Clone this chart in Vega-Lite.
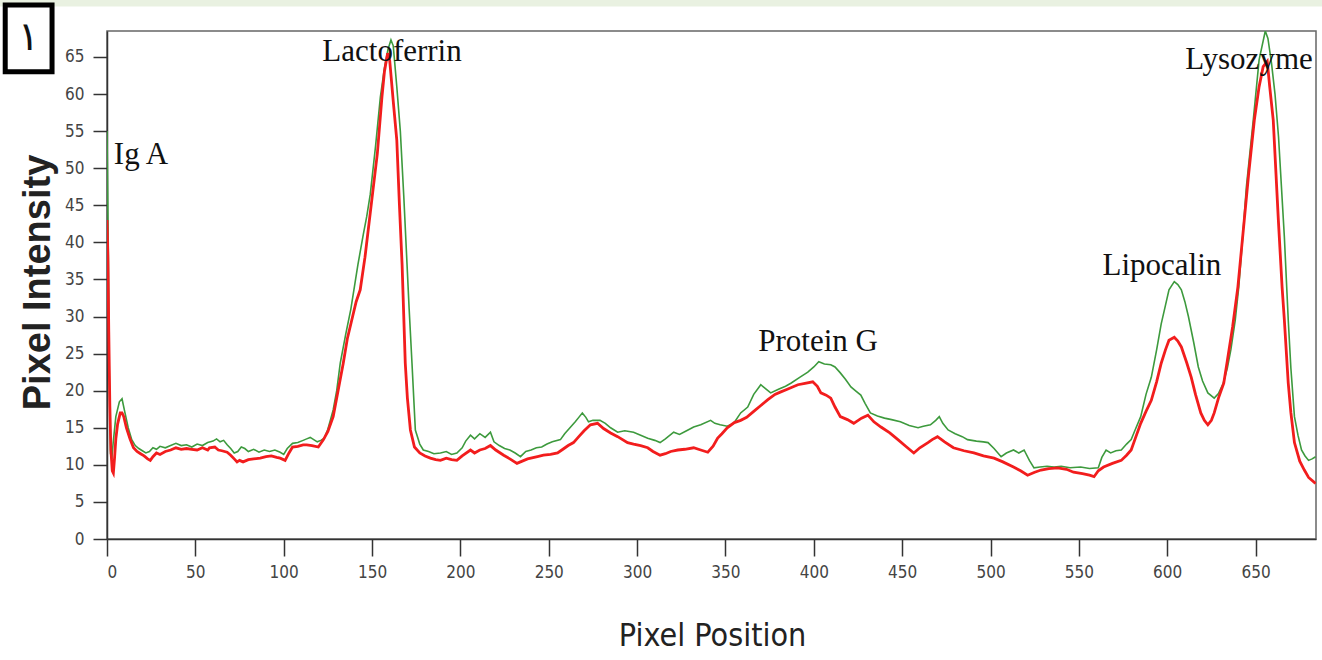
{
  "$schema": "https://vega.github.io/schema/vega-lite/v6.json",
  "width": 1209,
  "height": 508,
  "autosize": {"type": "none"},
  "padding": {"left": 107, "top": 31, "right": 6, "bottom": 121},
  "background": "white",
  "config": {
    "view": {"stroke": "#666666", "strokeWidth": 1.5},
    "axis": {"grid": false, "domainColor": "#333333", "domainWidth": 1.5, "tickColor": "#333333", "tickWidth": 1.5,
      "labelFont": "DejaVu Sans Condensed, Liberation Sans, sans-serif", "labelFontSize": 17, "labelColor": "#444444", "labelOverlap": false}
  },
  "datasets": {
    "green": [
      {"x":0,"y":55},{"x":0.7,"y":40},{"x":1.3,"y":22},{"x":2,"y":11.5},{"x":2.7,"y":10.8},{"x":3.5,"y":13},{"x":5,"y":16.5},{"x":7,"y":18.5},{"x":8.5,"y":18.9},{"x":10,"y":17.2},{"x":12,"y":15},{"x":14,"y":13.4},{"x":16,"y":12.6},{"x":18,"y":12.2},{"x":20,"y":11.9},{"x":22,"y":11.6},{"x":24,"y":11.8},{"x":26,"y":12.3},{"x":28,"y":12.1},{"x":30,"y":12.5},{"x":33,"y":12.3},{"x":36,"y":12.6},{"x":39,"y":12.9},{"x":42,"y":12.6},{"x":45,"y":12.7},{"x":48,"y":12.4},{"x":51,"y":12.8},{"x":54,"y":12.6},{"x":57,"y":13},{"x":60,"y":13.2},{"x":62,"y":13.5},{"x":64,"y":13.1},{"x":66,"y":13.3},{"x":68,"y":12.7},{"x":70,"y":12.2},{"x":72,"y":11.6},{"x":74,"y":11.8},{"x":76,"y":12.4},{"x":78,"y":12.2},{"x":80,"y":11.8},{"x":83,"y":12.1},{"x":86,"y":11.7},{"x":89,"y":12},{"x":92,"y":11.8},{"x":95,"y":12},{"x":98,"y":11.7},{"x":100,"y":11.4},{"x":102,"y":12.2},{"x":105,"y":12.9},{"x":108,"y":13},{"x":111,"y":13.3},{"x":113,"y":13.5},{"x":115,"y":13.7},{"x":117,"y":13.4},{"x":119,"y":13.1},{"x":121,"y":13.3},{"x":123,"y":13.6},{"x":125,"y":14.8},{"x":128,"y":17.4},{"x":130,"y":20},{"x":132,"y":23.7},{"x":135,"y":27.5},{"x":138,"y":31},{"x":140,"y":34},{"x":142,"y":37},{"x":145,"y":41},{"x":147,"y":43.5},{"x":149,"y":46.5},{"x":152,"y":53},{"x":154.7,"y":59.6},{"x":157,"y":63.5},{"x":159,"y":66},{"x":160.7,"y":67.3},{"x":162,"y":66.5},{"x":164,"y":61},{"x":166,"y":55},{"x":168,"y":46},{"x":169.8,"y":37},{"x":171,"y":31},{"x":172.6,"y":23.7},{"x":174.5,"y":14.7},{"x":177,"y":12.8},{"x":179,"y":12},{"x":182,"y":11.8},{"x":185,"y":11.5},{"x":188.7,"y":11.6},{"x":192,"y":11.8},{"x":195,"y":11.4},{"x":198,"y":11.6},{"x":201,"y":12.3},{"x":203,"y":13.2},{"x":205.7,"y":14},{"x":208,"y":13.5},{"x":211,"y":14.2},{"x":214,"y":13.7},{"x":217,"y":14.4},{"x":219,"y":13.1},{"x":222,"y":12.6},{"x":225,"y":12.2},{"x":228,"y":12},{"x":231,"y":11.6},{"x":234,"y":11.1},{"x":237,"y":11.8},{"x":240,"y":12},{"x":243,"y":12.3},{"x":246,"y":12.4},{"x":249,"y":12.8},{"x":252,"y":13.1},{"x":256.6,"y":13.4},{"x":259,"y":14.2},{"x":262,"y":15},{"x":265,"y":15.8},{"x":267,"y":16.4},{"x":269,"y":17},{"x":271,"y":16.4},{"x":272.5,"y":15.8},{"x":275,"y":16},{"x":279,"y":16},{"x":282,"y":15.6},{"x":285,"y":15},{"x":289,"y":14.4},{"x":293,"y":14.6},{"x":298,"y":14.4},{"x":302,"y":14},{"x":306,"y":13.6},{"x":310,"y":13.3},{"x":313,"y":13},{"x":316,"y":13.5},{"x":320.7,"y":14.4},{"x":324,"y":14.1},{"x":328,"y":14.6},{"x":332,"y":15.1},{"x":336,"y":15.4},{"x":341.6,"y":16},{"x":344,"y":15.6},{"x":347,"y":15.4},{"x":351,"y":15.2},{"x":354.7,"y":15.6},{"x":358.6,"y":17},{"x":362.6,"y":17.8},{"x":366,"y":19.5},{"x":370,"y":20.8},{"x":373,"y":20.2},{"x":375.6,"y":19.7},{"x":380,"y":20.2},{"x":384,"y":20.6},{"x":387,"y":21},{"x":392,"y":21.8},{"x":396.6,"y":22.5},{"x":400,"y":23.2},{"x":402.8,"y":23.9},{"x":406,"y":23.6},{"x":409.6,"y":23.5},{"x":412,"y":23.2},{"x":415,"y":22.4},{"x":418,"y":21.5},{"x":421,"y":20.5},{"x":424,"y":19.9},{"x":426.6,"y":19.4},{"x":429,"y":18.3},{"x":432,"y":17},{"x":436,"y":16.6},{"x":440,"y":16.3},{"x":444,"y":16.1},{"x":449,"y":15.8},{"x":454,"y":15.3},{"x":459,"y":15},{"x":462,"y":15.2},{"x":466,"y":15.4},{"x":469,"y":16},{"x":471,"y":16.5},{"x":473,"y":15.6},{"x":476,"y":14.7},{"x":480,"y":14.2},{"x":484,"y":13.8},{"x":487,"y":13.4},{"x":492,"y":13.2},{"x":496,"y":13.1},{"x":498.6,"y":13},{"x":502,"y":12.2},{"x":506,"y":11.1},{"x":509,"y":11.6},{"x":513,"y":12},{"x":516,"y":11.6},{"x":519,"y":12},{"x":522,"y":10.6},{"x":524.6,"y":9.6},{"x":528,"y":9.7},{"x":532,"y":9.8},{"x":536,"y":9.7},{"x":540,"y":9.8},{"x":545,"y":9.6},{"x":551,"y":9.7},{"x":556,"y":9.5},{"x":561,"y":9.6},{"x":563,"y":11},{"x":565.4,"y":12},{"x":568,"y":11.6},{"x":571,"y":11.9},{"x":574,"y":12},{"x":577,"y":12.8},{"x":579.6,"y":13.4},{"x":582,"y":14.8},{"x":585,"y":16.5},{"x":588,"y":19.5},{"x":591,"y":21.8},{"x":594,"y":25.5},{"x":596.6,"y":29},{"x":599,"y":31.5},{"x":601,"y":33.6},{"x":604,"y":34.7},{"x":606,"y":34.3},{"x":608,"y":33.6},{"x":610,"y":32},{"x":612,"y":30},{"x":615,"y":26.5},{"x":617.6,"y":23.2},{"x":620,"y":21.3},{"x":623,"y":19.7},{"x":626.6,"y":19},{"x":629,"y":19.6},{"x":631.7,"y":21},{"x":634,"y":23},{"x":636,"y":25.5},{"x":638.5,"y":29.5},{"x":640.5,"y":34},{"x":642.5,"y":40},{"x":644.8,"y":47.5},{"x":648.7,"y":56.5},{"x":652,"y":64.6},{"x":655.5,"y":68.5},{"x":657,"y":67.5},{"x":659,"y":64.2},{"x":661,"y":60},{"x":663,"y":54.2},{"x":666.3,"y":40.7},{"x":668.5,"y":29.5},{"x":670,"y":23},{"x":672,"y":16.5},{"x":674,"y":14},{"x":676,"y":12},{"x":678,"y":11.2},{"x":680,"y":10.6},{"x":682,"y":10.8},{"x":684,"y":11.1}
    ],
    "red": [
      {"x":0,"y":43},{"x":0.5,"y":38},{"x":1,"y":28},{"x":1.6,"y":18},{"x":2.2,"y":12},{"x":3,"y":9.2},{"x":3.6,"y":8.9},{"x":4.3,"y":11},{"x":5,"y":13.5},{"x":6,"y":15.5},{"x":7.5,"y":17},{"x":8.5,"y":17},{"x":9.5,"y":16.5},{"x":11,"y":15},{"x":13,"y":13.5},{"x":15,"y":12.3},{"x":17,"y":11.8},{"x":19,"y":11.5},{"x":21,"y":11.2},{"x":23,"y":10.8},{"x":24.5,"y":10.6},{"x":26,"y":11.1},{"x":28,"y":11.6},{"x":30,"y":11.4},{"x":33,"y":11.8},{"x":36,"y":12},{"x":39,"y":12.3},{"x":42,"y":12.1},{"x":45,"y":12.2},{"x":48,"y":12.1},{"x":51,"y":12},{"x":54,"y":12.3},{"x":57,"y":12},{"x":58,"y":12.3},{"x":61,"y":12.4},{"x":63,"y":12},{"x":65,"y":11.9},{"x":68,"y":11.7},{"x":70,"y":11.3},{"x":72,"y":10.8},{"x":73.6,"y":10.4},{"x":75,"y":10.6},{"x":77,"y":10.4},{"x":80,"y":10.7},{"x":83,"y":10.8},{"x":86.7,"y":10.9},{"x":90,"y":11.1},{"x":93,"y":11.2},{"x":96,"y":11},{"x":98,"y":10.9},{"x":100.8,"y":10.6},{"x":103,"y":11.6},{"x":105,"y":12.4},{"x":108,"y":12.5},{"x":111,"y":12.7},{"x":113,"y":12.7},{"x":116,"y":12.6},{"x":119.6,"y":12.4},{"x":122.5,"y":13.4},{"x":125,"y":14.5},{"x":128,"y":16.5},{"x":130,"y":19},{"x":133.7,"y":23.7},{"x":136,"y":27},{"x":139,"y":30},{"x":141,"y":32},{"x":143.3,"y":33.6},{"x":146,"y":38},{"x":150,"y":46},{"x":153,"y":52},{"x":155.6,"y":59.6},{"x":157,"y":63},{"x":158.8,"y":65.5},{"x":160,"y":64.5},{"x":162,"y":59},{"x":164,"y":53.8},{"x":165.5,"y":45},{"x":167,"y":37},{"x":168.8,"y":23.7},{"x":170,"y":19},{"x":171.7,"y":14.7},{"x":174,"y":12.4},{"x":177,"y":11.6},{"x":180,"y":11.2},{"x":183,"y":10.9},{"x":186,"y":10.7},{"x":188.7,"y":10.6},{"x":192,"y":10.9},{"x":195,"y":10.7},{"x":198,"y":10.6},{"x":201,"y":11.2},{"x":205.7,"y":12},{"x":208,"y":11.6},{"x":211,"y":12},{"x":214,"y":12.2},{"x":217,"y":12.6},{"x":220,"y":12},{"x":224.5,"y":11.3},{"x":228,"y":10.8},{"x":232,"y":10.2},{"x":235,"y":10.5},{"x":238,"y":10.8},{"x":243.6,"y":11.1},{"x":247,"y":11.3},{"x":251,"y":11.4},{"x":255,"y":11.6},{"x":258,"y":12.1},{"x":261,"y":12.6},{"x":264,"y":13},{"x":267,"y":13.8},{"x":270,"y":14.6},{"x":273.6,"y":15.4},{"x":277.6,"y":15.6},{"x":281,"y":14.9},{"x":285,"y":14.3},{"x":289,"y":13.8},{"x":294.6,"y":13},{"x":298,"y":12.8},{"x":302,"y":12.6},{"x":306,"y":12.3},{"x":309,"y":11.8},{"x":313,"y":11.3},{"x":316,"y":11.5},{"x":319,"y":11.8},{"x":323,"y":12},{"x":327,"y":12.1},{"x":332,"y":12.3},{"x":336,"y":12},{"x":340,"y":11.7},{"x":343,"y":12.5},{"x":345.6,"y":13.6},{"x":348,"y":14.2},{"x":351,"y":15},{"x":355,"y":15.7},{"x":358.6,"y":16},{"x":362,"y":16.4},{"x":366,"y":17.2},{"x":370,"y":18},{"x":374,"y":18.8},{"x":378,"y":19.5},{"x":381,"y":19.8},{"x":385,"y":20.2},{"x":388,"y":20.5},{"x":391,"y":20.8},{"x":395,"y":21},{"x":399.4,"y":21.2},{"x":402,"y":20.6},{"x":404,"y":19.7},{"x":407,"y":19.4},{"x":409.6,"y":19},{"x":412,"y":17.8},{"x":415,"y":16.5},{"x":419,"y":16.1},{"x":422.6,"y":15.6},{"x":427,"y":16.3},{"x":430.6,"y":16.7},{"x":434,"y":15.8},{"x":438,"y":15.1},{"x":443,"y":14.3},{"x":447.6,"y":13.4},{"x":452,"y":12.5},{"x":456.6,"y":11.6},{"x":460,"y":12.3},{"x":464.6,"y":13},{"x":467,"y":13.4},{"x":470,"y":13.8},{"x":474,"y":13.1},{"x":479,"y":12.3},{"x":485,"y":11.9},{"x":490.6,"y":11.6},{"x":496,"y":11.2},{"x":502,"y":10.9},{"x":507,"y":10.4},{"x":513,"y":9.7},{"x":517,"y":9.2},{"x":521,"y":8.6},{"x":525,"y":9},{"x":528.6,"y":9.3},{"x":533,"y":9.5},{"x":538,"y":9.6},{"x":543,"y":9.4},{"x":547,"y":9},{"x":552,"y":8.8},{"x":556,"y":8.6},{"x":558.6,"y":8.4},{"x":561,"y":9.2},{"x":564,"y":9.7},{"x":569,"y":10.2},{"x":574,"y":10.6},{"x":577,"y":11.3},{"x":579.6,"y":12},{"x":582,"y":13.6},{"x":585,"y":15.6},{"x":588,"y":17.2},{"x":591,"y":18.7},{"x":594,"y":21.2},{"x":596.6,"y":23.7},{"x":599,"y":25.5},{"x":601,"y":26.8},{"x":604,"y":27.2},{"x":606,"y":26.7},{"x":608,"y":25.9},{"x":611,"y":23.8},{"x":613.6,"y":21.8},{"x":616,"y":19.5},{"x":619,"y":17},{"x":621,"y":16},{"x":623,"y":15.4},{"x":625,"y":16},{"x":626.6,"y":17},{"x":629,"y":19},{"x":632,"y":21},{"x":634,"y":24},{"x":637,"y":28.6},{"x":640,"y":34},{"x":643.6,"y":43},{"x":646,"y":49},{"x":649.3,"y":56.5},{"x":652,"y":61},{"x":654.3,"y":63.7},{"x":656.6,"y":64.4},{"x":658,"y":61},{"x":660,"y":56.5},{"x":662.9,"y":43},{"x":665,"y":34},{"x":666.3,"y":29.5},{"x":668.5,"y":21},{"x":670,"y":17},{"x":672,"y":13},{"x":675,"y":10.5},{"x":677.6,"y":9.3},{"x":680,"y":8.3},{"x":683.4,"y":7.6},{"x":684,"y":7.5}
    ],
    "labels": [
      {"label":"Ig A","x":19.2,"y":51.8},
      {"label":"Lactoferrin","x":161.3,"y":65.7},
      {"label":"Protein G","x":402.4,"y":26.6},
      {"label":"Lipocalin","x":597,"y":36.8},
      {"label":"Lysozyme","x":646.3,"y":64.6}
    ],
    "badge": [
      {"x":-57.6,"x2":-31.1,"y":72.0,"y2":63.0}
    ],
    "badgeText": [
      {"label":"١","x":-44.4,"y":67.6}
    ],
    "strip": [
      {"x":-61,"x2":690,"y":73,"y2":71.8}
    ]
  },
  "encoding": {
    "x": {"field": "x", "type": "quantitative", "scale": {"domain": [0, 684.2], "nice": false, "zero": false}, "axis": {"values": [0,50,100,150,200,250,300,350,400,450,500,550,600,650], "tickSize": 17, "labelPadding": 8, "title": "Pixel Position", "titleFont": "DejaVu Sans Condensed, Liberation Sans, sans-serif", "titleFontSize": 32, "titleFontWeight": "normal", "titleColor": "#222222", "titleX": 605, "titleY": 96, "titleBaseline": "middle", "titleAlign": "center"}},
    "y": {"field": "y", "type": "quantitative", "scale": {"domain": [0, 68.5], "nice": false, "zero": false}, "axis": {"values": [0,5,10,15,20,25,30,35,40,45,50,55,60,65], "tickSize": 14, "labelPadding": 9, "title": "Pixel Intensity", "titleFont": "Liberation Sans, Arial, sans-serif", "titleFontSize": 38, "titleFontWeight": "bold", "titleColor": "#222222", "titleAngle": -90, "titleX": -69, "titleY": 251, "titleAlign": "center", "titleBaseline": "middle"}}
  },
  "layer": [
    {
      "data": {"name": "strip"},
      "mark": {"type": "rect", "color": "#e9f1e1", "clip": false},
      "encoding": {"x2": {"field": "x2"}, "y2": {"field": "y2"}}
    },
    {
      "data": {"name": "badge"},
      "mark": {"type": "rect", "fill": "white", "stroke": "black", "strokeWidth": 5, "clip": false},
      "encoding": {"x2": {"field": "x2"}, "y2": {"field": "y2"}}
    },
    {
      "data": {"name": "badgeText"},
      "mark": {"type": "text", "font": "DejaVu Sans", "fontSize": 40, "fontWeight": "normal", "color": "#111111", "clip": false, "baseline": "middle", "align": "center"},
      "encoding": {"text": {"field": "label"}}
    },
    {
      "data": {"name": "green"},
      "mark": {"type": "line", "color": "#3d9a3d", "strokeWidth": 1.6, "clip": true},
      "encoding": {}
    },
    {
      "data": {"name": "red"},
      "mark": {"type": "line", "color": "#f21d1d", "strokeWidth": 2.8, "clip": true},
      "encoding": {}
    },
    {
      "data": {"name": "labels"},
      "mark": {"type": "text", "font": "Liberation Serif", "fontSize": 31, "color": "#111111", "baseline": "middle", "align": "center", "clip": false},
      "encoding": {"text": {"field": "label"}}
    }
  ]
}
